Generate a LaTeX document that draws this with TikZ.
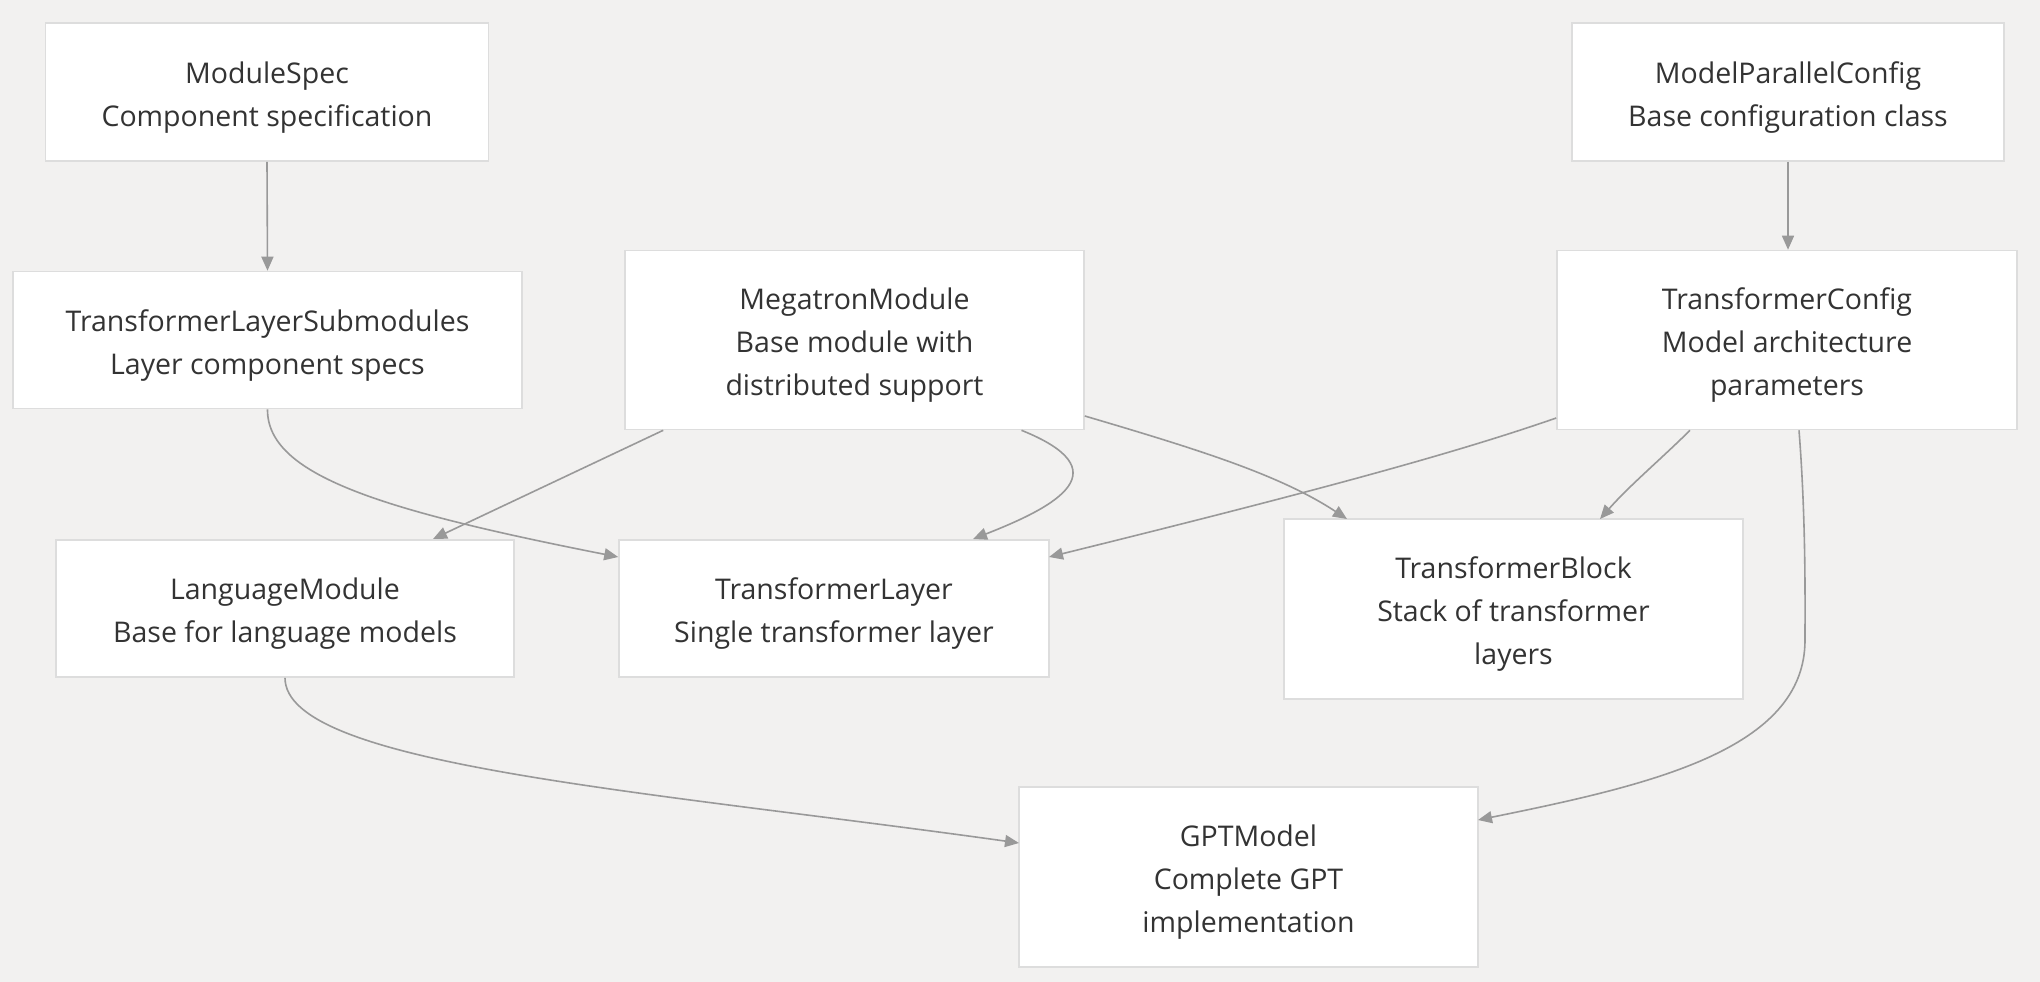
\documentclass[tikz,border=0pt]{standalone}
\usepackage{fontspec}
\setmainfont{Open Sans}
\usetikzlibrary{arrows.meta}
\definecolor{bg}{HTML}{F2F1F0}
\definecolor{boxborder}{HTML}{DDDDDD}
\definecolor{edge}{HTML}{999999}
\definecolor{txt}{HTML}{333333}
\newcommand{\topstrut}{\rule{0pt}{32pt}}
\tikzset{
  box/.style={draw=boxborder, line width=1.6pt, fill=white, align=center, text=txt,
    font=\fontsize{28.5}{43}\selectfont, inner sep=0pt},
  conn/.style={draw=edge, line width=1.6pt, -{Triangle[length=14pt,width=12pt]}},
}
\begin{document}
\begin{tikzpicture}[x=1pt,y=-1pt]
\useasboundingbox[fill=bg] (0,0) rectangle (2040,982);
\node[box, minimum width=443pt, minimum height=138pt] (ms) at (267,92) {\topstrut ModuleSpec\\Component specification};
\node[box, minimum width=509pt, minimum height=137pt] (tls) at (267.5,340) {\topstrut TransformerLayerSubmodules\\Layer component specs};
\node[box, minimum width=459pt, minimum height=179pt] (mm) at (854.5,340) {\topstrut MegatronModule\\Base module with\\distributed support};
\node[box, minimum width=432pt, minimum height=138pt] (mpc) at (1788,92) {\topstrut ModelParallelConfig\\Base configuration class};
\node[box, minimum width=460pt, minimum height=179pt] (tc) at (1787,340) {\topstrut TransformerConfig\\Model architecture\\parameters};
\node[box, minimum width=458pt, minimum height=137pt] (lm) at (285,608.5) {\topstrut LanguageModule\\Base for language models};
\node[box, minimum width=430pt, minimum height=137pt] (tl) at (834,608.5) {\topstrut TransformerLayer\\Single transformer layer};
\node[box, minimum width=459pt, minimum height=180pt] (tb) at (1513.5,609) {\topstrut TransformerBlock\\Stack of transformer\\layers};
\node[box, minimum width=459pt, minimum height=180pt] (gpt) at (1248.5,877) {\topstrut GPTModel\\Complete GPT\\implementation};

\draw[conn] (ms.south) -- (tls.north);
\draw[conn] (mpc.south) -- (mpc.south |- tc.north);
\draw[conn] (tls.south) .. controls (267,475) and (380,510) .. (tl.north west |- 0,557);
\draw[conn] (mm.south west) ++(39,0) -- (433,539);
\draw[conn] (mm.south) ++(167,0) .. controls (1120,470) and (1060,505) .. (973,539);
\draw[conn] (mm.east) ++(0,76) .. controls (1200,450) and (1280,475) .. (1347,519);
\draw[conn] (tc.west) ++(0,78) .. controls (1450,455) and (1300,495) .. (1049,557);
\draw[conn] (tc.south) ++(-97,0) .. controls (1660,460) and (1630,485) .. (1600,519);
\draw[conn] (tc.south) ++(12,0) .. controls (1806,520) and (1805,600) .. (1805,640)
   .. controls (1805,750) and (1650,785) .. (1478,820);
\draw[conn] (lm.south) .. controls (285,765) and (640,790) .. (1019,843);
\end{tikzpicture}
\end{document}
